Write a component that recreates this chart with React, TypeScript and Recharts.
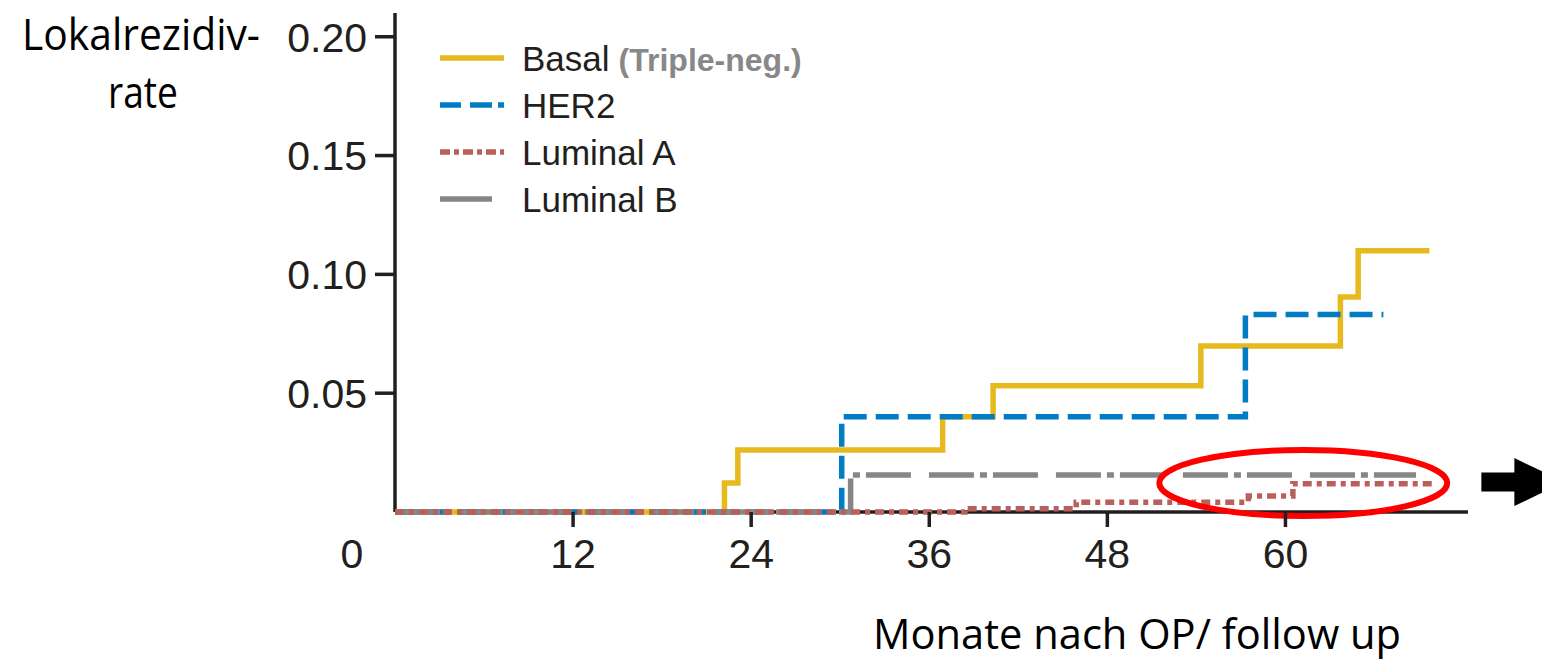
import React from 'react'
import { LineChart, Line, XAxis, YAxis, ReferenceArea, Legend, Label } from 'recharts'

// Kaplan-Meier style step curves (months, rate)
const basalMonths = [0, 22.2, 23.1, 36.9, 40.3, 54.3, 63.7, 64.9, 69.7]
const basalRates = [0, 0.0122, 0.0261, 0.0401, 0.0531, 0.0699, 0.0905, 0.1099, 0.1099]
const her2Months = [0, 30.1, 57.3, 66.6]
const her2Rates = [0, 0.0401, 0.0831, 0.0831]
const lumAMonths = [0, 38.4, 45.9, 57.5, 60.5, 70.1]
const lumARates = [0, 0.0014, 0.0041, 0.0067, 0.0119, 0.0119]
const lumBMonths = [0, 30.7, 68.8]
const lumBRates = [0, 0.0156, 0.0156]

const seriesNames = ['Basal', 'HER2', 'Luminal A', 'Luminal B']
const xTicks = [0, 12, 24, 36, 48, 60]
const yTicks = [0.05, 0.1, 0.15, 0.2]

// highlighted region and arrow (annotation, in data units)
const highlightMonths = [51.5, 70.9]
const highlightRates = [-0.0017, 0.0261]
const arrowMonths = [73.2, 78.8]
const arrowRates = [0.0025, 0.0227]

const toPoints = (months: number[], rates: number[]) => months.map((m, i) => ({ m, v: rates[i] }))

const basal = toPoints(basalMonths, basalRates)
const her2 = toPoints(her2Months, her2Rates)
const lumA = toPoints(lumAMonths, lumARates)
const lumB = toPoints(lumBMonths, lumBRates)

const INK = '#231F20'
const YELLOW = '#E6BA1F'
const BLUE = '#007DC5'
const RED = '#B9605A'
const GRAY = '#868686'
const tickFont = '"Liberation Sans", Arial, sans-serif'
const titleFont = '"Open Sans", sans-serif'

const legendStyles = [
  { color: YELLOW, dash: undefined, len: 64 },
  { color: BLUE, dash: '21 9 22 6 6', len: 64 },
  { color: RED, dash: '10 4 5 4', len: 64 },
  { color: GRAY, dash: undefined, len: 52 },
]

function XTick(props: any) {
  const { x, y, payload } = props
  if (payload.value === 0) {
    return (
      <text x={x - 43} y={y} dy="0.71em" textAnchor="middle" fontSize={41} fontFamily={tickFont} fill={INK}>
        0
      </text>
    )
  }
  return (
    <g>
      <line x1={x} x2={x} y1={y - 27} y2={y - 12} stroke={INK} strokeWidth={3.5} />
      <text x={x} y={y} dy="0.71em" textAnchor="middle" fontSize={41} fontFamily={tickFont} fill={INK}>
        {payload.value}
      </text>
    </g>
  )
}

function YTick(props: any) {
  const { x, y, payload } = props
  return (
    <g>
      <line x1={x + 8} x2={x + 28} y1={y} y2={y} stroke={INK} strokeWidth={3.5} />
      <text x={x} y={y} dy="0.36em" textAnchor="end" fontSize={41} fontFamily={tickFont} fill={INK}>
        {payload.value.toFixed(2)}
      </text>
    </g>
  )
}

function renderLegend() {
  return (
    <svg width={460} height={200} style={{ display: 'block' }}>
      {seriesNames.map((name, i) => {
        const cy = 38 + i * 47
        const s = legendStyles[i]
        return (
          <g key={name}>
            <line x1={10} x2={10 + s.len} y1={cy} y2={cy} stroke={s.color} strokeWidth={5.5} strokeDasharray={s.dash} />
            <text x={92} y={cy} dy="0.36em" fontSize={35} fontFamily={tickFont} fill={INK}>
              {name}
              {i === 0 && (
                <tspan dx={9} fontSize={32} fontWeight="bold" fill="#888888">
                  (Triple-neg.)
                </tspan>
              )}
            </text>
          </g>
        )
      })}
    </svg>
  )
}

export default function App() {
  return (
    <div style={{ position: 'absolute', left: 0, top: 0, width: 1542, height: 661, background: '#fff' }}>
      <LineChart width={1542} height={661} margin={{ top: 13, right: 74, bottom: 89, left: 0 }}>
        <XAxis
          type="number"
          dataKey="m"
          domain={[0, 72.3]}
          ticks={xTicks}
          interval={0}
          height={60}
          tickSize={15}
          tickMargin={12}
          tickLine={false}
          axisLine={{ stroke: INK, strokeWidth: 3.5 }}
          tick={<XTick />}
          zIndex={300}
        >
          <Label
            content={(p: any) => (
              <text
                x={p.viewBox.x + 478}
                y={p.viewBox.y + 137}
                fontSize={42}
                fontFamily={titleFont}
                fill="#000"
                textLength={528}
                lengthAdjust="spacingAndGlyphs"
              >
                Monate nach OP/ follow up
              </text>
            )}
          />
        </XAxis>
        <YAxis
          type="number"
          domain={[0, 0.21]}
          ticks={yTicks}
          interval={0}
          width={395}
          tickSize={20}
          tickMargin={8}
          tickLine={false}
          axisLine={{ stroke: INK, strokeWidth: 3.5 }}
          tick={<YTick />}
          zIndex={300}
        >
          <Label
            content={(p: any) => (
              <g fontFamily={titleFont} fontSize={43} fill="#000">
                <text x={p.viewBox.x + 22} y={p.viewBox.y + 37} textLength={238} lengthAdjust="spacingAndGlyphs">
                  Lokalrezidiv-
                </text>
                <text x={p.viewBox.x + 108} y={p.viewBox.y + 95} textLength={70} lengthAdjust="spacingAndGlyphs">
                  rate
                </text>
              </g>
            )}
          />
        </YAxis>
        <Legend
          layout="vertical"
          align="center"
          verticalAlign="middle"
          wrapperStyle={{ left: 430, top: 20, width: 460, height: 200 }}
          content={renderLegend}
        />
        <Line data={basal} dataKey="v" name={seriesNames[0]} type="stepAfter" stroke={YELLOW} strokeWidth={5.5} dot={false} isAnimationActive={false} zIndex={600} />
        <Line data={her2} dataKey="v" name={seriesNames[1]} type="stepAfter" stroke={BLUE} strokeWidth={5.5} strokeDasharray="23 9" dot={false} isAnimationActive={false} zIndex={600} />
        <Line data={lumB} dataKey="v" name={seriesNames[3]} type="stepAfter" stroke={GRAY} strokeWidth={5.5} strokeDasharray="45 18 45 6 7 6" dot={false} isAnimationActive={false} zIndex={600} />
        <Line data={lumA} dataKey="v" name={seriesNames[2]} type="stepAfter" stroke={RED} strokeWidth={5.5} strokeDasharray="9 5 5 5" dot={false} isAnimationActive={false} zIndex={600} />
        <ReferenceArea
          x1={highlightMonths[0]}
          x2={highlightMonths[1]}
          y1={highlightRates[0]}
          y2={highlightRates[1]}
          ifOverflow="visible"
          zIndex={700}
          shape={(p: any) => (
            <ellipse
              cx={p.x + p.width / 2}
              cy={p.y + p.height / 2}
              rx={p.width / 2}
              ry={p.height / 2}
              fill="none"
              stroke="#FF0000"
              strokeWidth={6}
            />
          )}
        />
        <ReferenceArea
          x1={arrowMonths[0]}
          x2={arrowMonths[1]}
          y1={arrowRates[0]}
          y2={arrowRates[1]}
          ifOverflow="visible"
          zIndex={700}
          shape={(p: any) => {
            const cy = p.y + p.height / 2
            const hx = p.x + 33
            const pts = [
              [p.x, cy - 9.5],
              [hx, cy - 9.5],
              [hx, p.y],
              [p.x + p.width, cy],
              [hx, p.y + p.height],
              [hx, cy + 9.5],
              [p.x, cy + 9.5],
            ]
            return <polygon points={pts.map((q) => q.join(',')).join(' ')} fill="#000" />
          }}
        />
      </LineChart>
    </div>
  )
}
